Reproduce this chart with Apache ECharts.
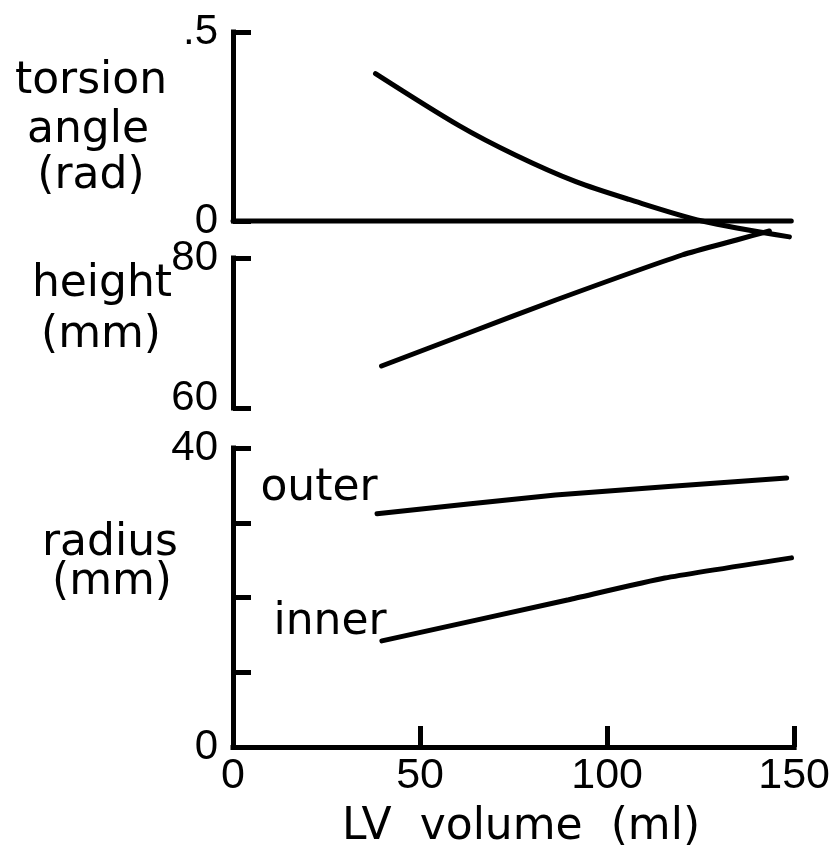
<!DOCTYPE html>
<html>
<head>
<meta charset="utf-8">
<title>LV torsion, height and radius</title>
<script src="https://cdn.jsdelivr.net/npm/echarts@6/dist/echarts.min.js"></script>
<style>
  html, body { margin: 0; padding: 0; background: #fff; }
  #chart { width: 833px; height: 850px; }
</style>
</head>
<body>
<div id="chart"></div>
<script>
// LV volume (ml) on x, three stacked panels
const torsionVol = [37.7, 59.7, 74.8, 90.7, 104.8, 124.1, 147.2];
const torsionRad = [0.39, 0.253, 0.174, 0.104, 0.057, 0.0, -0.042];
const zeroVol = [0, 147.7];
const zeroRad = [0, 0];

const heightVol = [39.3, 62.3, 85.4, 118.8, 133.2, 141.9];
const heightMm = [65.6, 70.0, 74.4, 80.4, 82.4, 83.6];

const outerVol = [38.5, 86.2, 148.0];
const outerMm = [31.2, 33.7, 36.0];
const innerVol = [39.8, 89.7, 115.4, 149.3];
const innerMm = [14.2, 19.7, 22.6, 25.3];

const xTicks = [0, 50, 100, 150];

const numFont = "'Liberation Sans', Arial, sans-serif";
const wordFont = "'DejaVu Sans', sans-serif";
const ink = "#000";
const stroke = 5;

function pairs(xs, ys) {
  return xs.map(function (x, i) {
    return [x, ys[i]];
  });
}

function hiddenX(gridIndex) {
  return {
    gridIndex: gridIndex,
    type: "value",
    min: 0,
    max: 150,
    show: false,
  };
}

function yAxis(gridIndex, min, max, interval, formatter) {
  return {
    gridIndex: gridIndex,
    type: "value",
    min: min,
    max: max,
    interval: interval,
    axisLine: { show: true, lineStyle: { color: ink, width: stroke, cap: "square" } },
    axisTick: { show: true, inside: true, length: 18, lineStyle: { color: ink, width: stroke } },
    splitLine: { show: false },
    axisLabel: {
      margin: 15,
      color: ink,
      fontFamily: numFont,
      fontSize: 42,
      formatter: formatter,
      rich: {
        up: { fontFamily: numFont, fontSize: 42, color: ink, padding: [0, 0, 20, 0] },
      },
    },
  };
}

function curve(xi, data, smooth) {
  return {
    type: "line",
    xAxisIndex: xi,
    yAxisIndex: xi,
    data: data,
    showSymbol: false,
    symbol: "none",
    smooth: smooth,
    clip: false,
    silent: true,
    lineStyle: { color: ink, width: stroke, cap: "round" },
  };
}

function word(text, x, y) {
  return {
    type: "text",
    x: x,
    y: y,
    style: {
      text: text,
      fill: ink,
      font: "44px " + wordFont,
      textAlign: "center",
      textVerticalAlign: "middle",
    },
  };
}

const chart = echarts.init(document.getElementById("chart"));

chart.setOption({
  backgroundColor: "#fff",
  animation: false,
  grid: [
    { left: 233, width: 567, top: 32, height: 189 },
    { left: 233, width: 567, top: 258, height: 150 },
    { left: 233, width: 567, top: 448, height: 299 },
  ],
  xAxis: [
    hiddenX(0),
    hiddenX(1),
    {
      gridIndex: 2,
      type: "value",
      min: 0,
      max: 150,
      interval: 50,
      axisLine: { show: true, lineStyle: { color: ink, width: stroke, cap: "square" } },
      axisTick: { show: true, inside: true, length: 21, lineStyle: { color: ink, width: stroke } },
      splitLine: { show: false },
      axisLabel: {
        margin: 8,
        color: ink,
        fontFamily: numFont,
        fontSize: 43,
        formatter: function (v) {
          return xTicks.indexOf(v) >= 0 ? String(v) : "";
        },
      },
    },
  ],
  yAxis: [
    yAxis(0, 0, 0.5, 0.5, function (v) {
      return v === 0 ? "0" : ".5";
    }),
    yAxis(1, 60, 80, 20, function (v) {
      return v === 60 ? "{up|60}" : String(v);
    }),
    yAxis(2, 0, 40, 10, function (v) {
      return v === 0 || v === 40 ? String(v) : "";
    }),
  ],
  graphic: [
    word("torsion", 91, 82),
    word("angle", 88, 131),
    word("(rad)", 91, 177),
    word("height", 102, 285),
    word("(mm)", 101, 336),
    word("radius", 110, 544),
    word("(mm)", 112, 583),
    word("outer", 319, 489),
    word("inner", 330, 623),
    word("LV  volume  (ml)", 521, 828),
  ],
  series: [
    curve(0, pairs(zeroVol, zeroRad), false),
    curve(0, pairs(torsionVol, torsionRad), 0.3),
    curve(1, pairs(heightVol, heightMm), 0.2),
    curve(2, pairs(outerVol, outerMm), 0.15),
    curve(2, pairs(innerVol, innerMm), 0.15),
  ],
});
</script>
</body>
</html>
